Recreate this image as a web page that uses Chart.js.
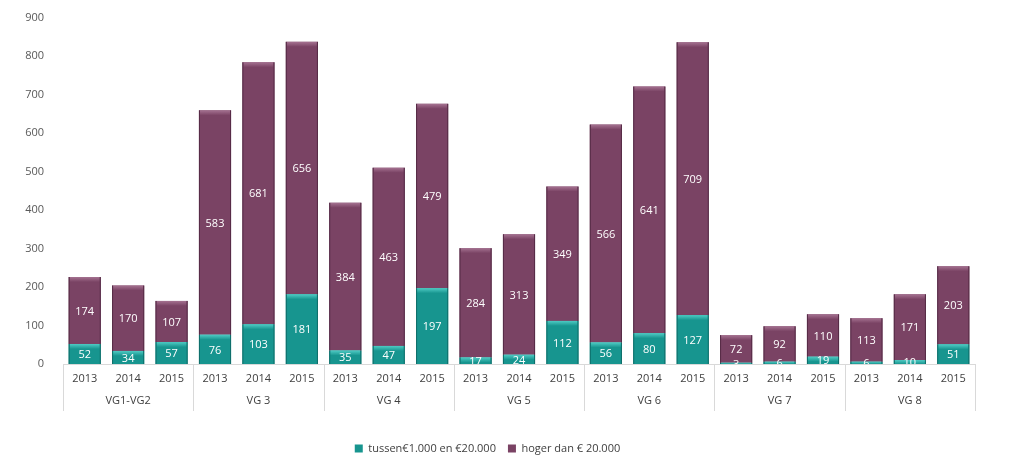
<!DOCTYPE html>
<html>
<head>
<meta charset="utf-8">
<script src="https://cdn.jsdelivr.net/npm/chart.js@4.4.1/dist/chart.umd.min.js"></script>
<style>
  html, body { margin: 0; padding: 0; background: #fff; }
  #wrap { width: 1023px; height: 468px; position: relative; }
</style>
</head>
<body>
<div id="wrap"><canvas id="chart"></canvas></div>
<script>
// Jaren per groep en groepsnamen
const years = ['2013', '2014', '2015'];
const groups = ['VG1-VG2', 'VG 3', 'VG 4', 'VG 5', 'VG 6', 'VG 7', 'VG 8'];

// Aantallen per categorie
const tussenValues = [52, 34, 57, 76, 103, 181, 35, 47, 197, 17, 24, 112, 56, 80, 127, 3, 6, 19, 6, 10, 51];
const hogerValues = [174, 170, 107, 583, 681, 656, 384, 463, 479, 284, 313, 349, 566, 641, 709, 72, 92, 110, 113, 171, 203];

const yTicks = [0, 100, 200, 300, 400, 500, 600, 700, 800, 900];

const labels = [];
groups.forEach(() => years.forEach(y => labels.push(y)));

const FONT = "'Open Sans', 'Liberation Sans', sans-serif";

// Tekst in de balken + lichte rand bovenaan
const barDecor = {
    id: 'barDecor',
    afterDatasetsDraw(chart) {
        const ctx = chart.ctx;
        const area = chart.chartArea;
        ctx.save();
        ctx.beginPath();
        ctx.rect(area.left, area.top - 5, area.right - area.left, area.bottom - area.top + 5);
        ctx.clip();
        chart.data.datasets.forEach((ds, i) => {
            const meta = chart.getDatasetMeta(i);
            meta.data.forEach((bar, j) => {
                const w = bar.width;
                const left = bar.x - w / 2;
                const h = bar.base - bar.y;
                // highlight bovenkant (verloop)
                const band = Math.min(5, h);
                const grad = ctx.createLinearGradient(0, bar.y, 0, bar.y + band);
                grad.addColorStop(0, ds.highlight);
                grad.addColorStop(1, ds.backgroundColor);
                ctx.fillStyle = grad;
                ctx.fillRect(left + 1, bar.y, w - 2, band);
                // donkere zijkanten
                ctx.fillStyle = ds.shade;
                ctx.fillRect(left, bar.y, 1, h);
                ctx.fillRect(left + w - 1, bar.y, 1, h);
                // waarde
                ctx.fillStyle = '#ffffff';
                ctx.font = '11px ' + FONT;
                ctx.textAlign = 'center';
                ctx.textBaseline = 'middle';
                ctx.fillText(ds.data[j], bar.x, bar.y + h / 2 + 1);
            });
        });
        ctx.restore();
    }
};

// Groepsscheidingen onder de as
const groupLines = {
    id: 'groupLines',
    afterDraw(chart) {
        const ctx = chart.ctx;
        const x = chart.scales.x;
        const area = chart.chartArea;
        ctx.save();
        ctx.strokeStyle = '#d9d9d9';
        ctx.lineWidth = 1;
        for (let g = 0; g <= groups.length; g++) {
            let px;
            if (g === 0) px = x.left;
            else if (g === groups.length) px = x.right;
            else px = (x.getPixelForValue(g * 3 - 1) + x.getPixelForValue(g * 3)) / 2;
            px = Math.round(px) + 0.5;
            ctx.beginPath();
            ctx.moveTo(px, area.bottom);
            ctx.lineTo(px, area.bottom + 47);
            ctx.stroke();
        }
        ctx.restore();
    }
};

new Chart(document.getElementById('chart'), {
    type: 'bar',
    data: {
        labels: labels,
        datasets: [{
            label: 'tussen€1.000 en €20.000',
            data: tussenValues,
            backgroundColor: '#17958f',
            highlight: '#4fcbc4',
            shade: '#0e6d69',
            borderWidth: 0
        }, {
            label: 'hoger dan € 20.000',
            data: hogerValues,
            backgroundColor: '#7a4364',
            highlight: '#a57291',
            shade: '#552a45',
            borderWidth: 0
        }]
    },
    options: {
        responsive: true,
        maintainAspectRatio: false,
        animation: false,
        categoryPercentage: 1,
        barPercentage: 0.74,
        layout: { padding: { left: 0, right: 48, top: 16, bottom: 4 } },
        plugins: {
            tooltip: { enabled: false },
            legend: {
                position: 'bottom',
                labels: {
                    boxWidth: 8,
                    boxHeight: 8,
                    padding: 12,
                    color: '#404040',
                    font: { family: FONT, size: 11 }
                }
            }
        },
        scales: {
            x: {
                stacked: true,
                grid: { display: false },
                border: { color: '#d9d9d9' },
                ticks: {
                    color: '#404040',
                    font: { family: FONT, size: 11 },
                    padding: 0,
                    maxRotation: 0,
                    autoSkip: false
                },
                afterFit(s) { s.height = 21; }
            },
            x2: {
                type: 'category',
                labels: groups,
                position: 'bottom',
                grid: { display: false },
                border: { display: false },
                ticks: {
                    color: '#404040',
                    font: { family: FONT, size: 11 },
                    padding: 1
                },
                afterFit(s) { s.height = 46; }
            },
            y: {
                stacked: true,
                min: 0,
                max: 900,
                afterBuildTicks(s) { s.ticks = yTicks.map(v => ({ value: v })); },
                grid: { display: false },
                border: { display: false },
                ticks: {
                    color: '#595959',
                    font: { family: FONT, size: 11 },
                    padding: 11
                },
                afterFit(s) { s.width = 63; }
            }
        }
    },
    plugins: [barDecor, groupLines]
});
</script>
</body>
</html>
